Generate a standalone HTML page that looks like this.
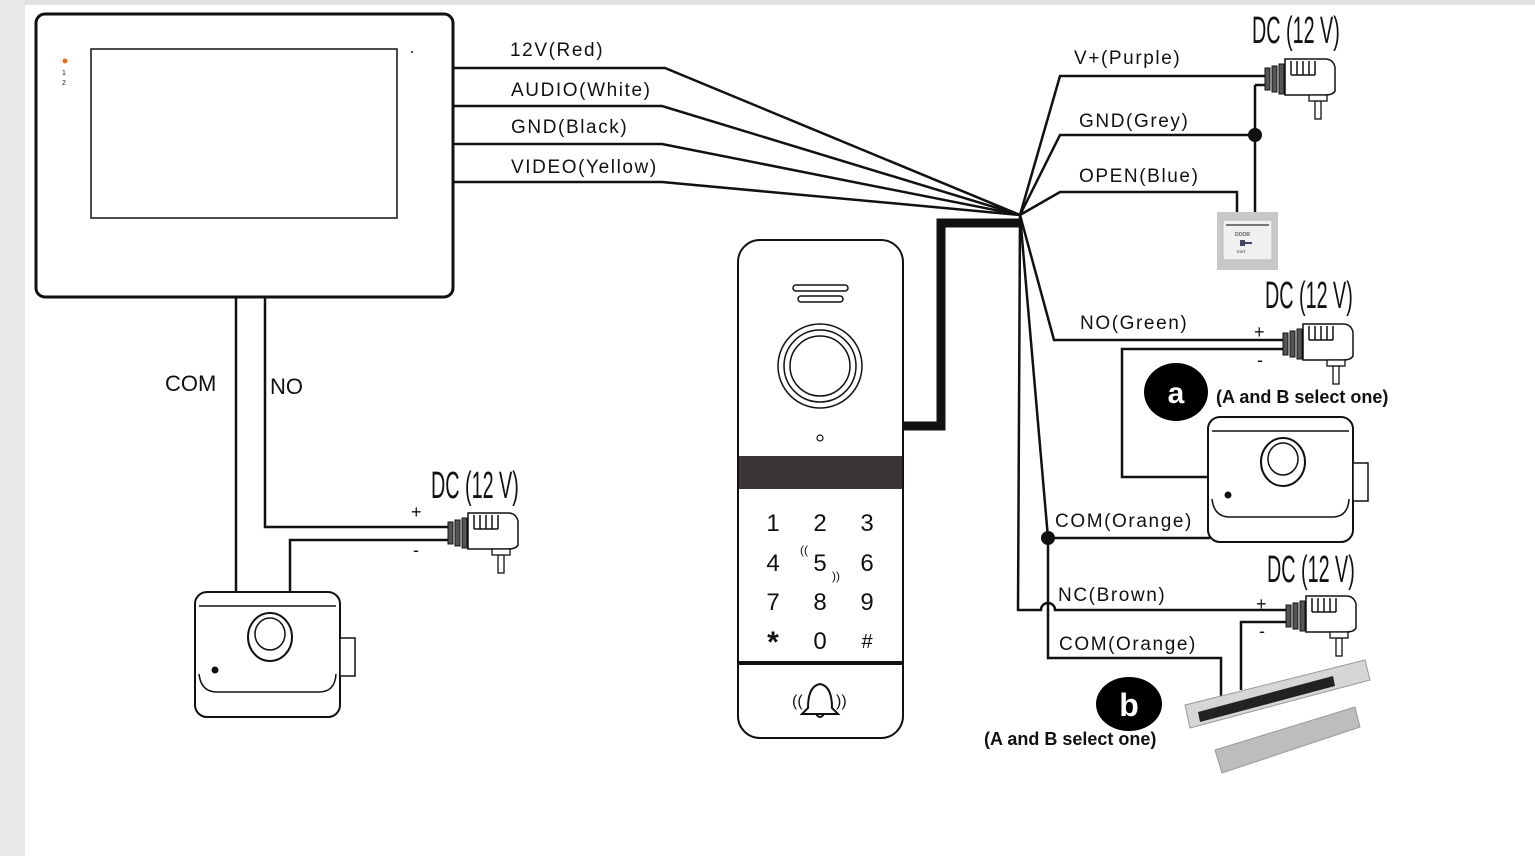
<!DOCTYPE html>
<html><head><meta charset="utf-8"><style>
html,body{margin:0;padding:0;background:#fff}
svg{display:block}
text{font-family:"Liberation Sans",sans-serif;fill:#111}
</style></head><body>
<svg width="1535" height="856" viewBox="0 0 1535 856" xmlns="http://www.w3.org/2000/svg">
<defs>
<g id="plug">
<rect x="0" y="-11" width="5" height="22" fill="#555" stroke="#111" stroke-width="1"/>
<rect x="7" y="-13" width="5" height="26" fill="#555" stroke="#111" stroke-width="1"/>
<rect x="14" y="-15" width="5" height="30" fill="#555" stroke="#111" stroke-width="1"/>
<path d="M20 -20 H60 Q68 -20 70 -12 V12 Q68 16 60 16 H20 Z" fill="#fff" stroke="#111" stroke-width="1.5"/>
<path d="M26 -18 V-4 M32 -18 V-4 M38 -18 V-4 M44 -18 V-4 M50 -18 V-4 M26 -4 H50" stroke="#111" stroke-width="1.5" fill="none"/>
<rect x="50" y="22" width="6" height="18" fill="#fff" stroke="#111" stroke-width="1.3"/>
<rect x="44" y="16" width="18" height="6" fill="#fff" stroke="#111" stroke-width="1.3"/>
</g>
<g id="lock">
<rect x="0" y="0" width="145" height="125" rx="12" fill="#fff" stroke="#111" stroke-width="2"/>
<path d="M4 14 H141" stroke="#111" stroke-width="1.5"/>
<path d="M4 82 Q6 100 22 100 H124 Q140 100 141 82" stroke="#111" stroke-width="1.5" fill="none"/>
<rect x="145" y="46" width="15" height="38" fill="#fff" stroke="#111" stroke-width="1.5"/>
<ellipse cx="75" cy="45" rx="22" ry="24" fill="#fff" stroke="#111" stroke-width="2"/>
<ellipse cx="75" cy="42" rx="15" ry="16" fill="#fff" stroke="#111" stroke-width="1.5"/>
<circle cx="20" cy="78" r="3.5" fill="#111"/>
</g>
<text id="dc" font-size="38" transform="scale(0.52,1)">DC (12 V)</text>
</defs>
<rect x="0" y="0" width="1535" height="5" fill="#e2e2e2"/>
<rect x="0" y="0" width="25" height="856" fill="#e8e8e8"/>

<!-- Monitor -->
<rect x="36" y="14" width="417" height="283" rx="9" fill="#fff" stroke="#111" stroke-width="3"/>
<rect x="91" y="49" width="306" height="169" fill="#fff" stroke="#111" stroke-width="1.5"/>
<circle cx="65" cy="61" r="2.5" fill="#e07020"/>
<text x="62" y="75" font-size="7" fill="#888">1</text><text x="62" y="85" font-size="7" fill="#888">2</text>
<circle cx="412" cy="52" r="1" fill="#111"/>

<g stroke="#111" stroke-width="2.5" fill="none">
<path d="M453 68 H665 L1020 215"/>
<path d="M453 106 H662 L1020 215"/>
<path d="M453 144 H662 L1020 215"/>
<path d="M453 182 H662 L1020 215"/>
<path d="M903 426 H941 V223 H1020" stroke-width="9"/>
<path d="M1020 215 L1060 76 H1268"/>
<path d="M1020 215 L1060 135 H1255"/>
<path d="M1255 85 H1268 M1255 85 V212"/>
<path d="M1020 215 L1060 192 H1237 V212"/>
<path d="M1020 215 L1054 340 H1285"/>
<path d="M1285 349 H1122 V477 H1208"/>
<path d="M1020 215 L1048 538 H1210"/>
<path d="M1048 538 V658 H1221 V697"/>
<path d="M1020 215 L1018 610 H1041 A7 7 0 0 1 1055 610 H1290"/>
<path d="M1290 622 H1241 V690"/>
<path d="M236 297 V593"/>
<path d="M265 297 V527 H448"/>
<path d="M290 595 V540 H448"/>
</g>
<circle cx="1255" cy="135" r="7" fill="#111"/>
<circle cx="1048" cy="538" r="7" fill="#111"/>

<g font-size="19" letter-spacing="1.6">
<text x="510" y="56">12V(Red)</text>
<text x="511" y="96">AUDIO(White)</text>
<text x="511" y="133">GND(Black)</text>
<text x="511" y="173">VIDEO(Yellow)</text>
<text x="1074" y="64">V+(Purple)</text>
<text x="1079" y="127">GND(Grey)</text>
<text x="1079" y="182">OPEN(Blue)</text>
<text x="1080" y="329">NO(Green)</text>
<text x="1055" y="527">COM(Orange)</text>
<text x="1058" y="601">NC(Brown)</text>
<text x="1059" y="650">COM(Orange)</text>
</g>
<text x="165" y="391" font-size="22">COM</text>
<text x="270" y="394" font-size="22">NO</text>
<g font-size="18"><text x="411" y="518">+</text><text x="413" y="556">-</text>
<text x="1254" y="338">+</text><text x="1257" y="366">-</text>
<text x="1256" y="610">+</text><text x="1259" y="637">-</text></g>

<use href="#dc" x="1252" y="43"/>
<use href="#dc" x="1265" y="308"/>
<use href="#dc" x="1267" y="582"/>
<use href="#dc" x="431" y="498"/>

<use href="#plug" x="1265" y="79"/>
<use href="#plug" x="1283" y="344"/>
<use href="#plug" x="1286" y="616"/>
<use href="#plug" x="448" y="533"/>

<rect x="1217" y="212" width="61" height="58" fill="#c8c8c8"/>
<rect x="1223" y="220" width="49" height="40" fill="#f0f0f0" stroke="#bbb"/>
<rect x="1226" y="224" width="43" height="2" fill="#777"/>
<text x="1235" y="236" font-size="5" fill="#555">DOOR</text>
<rect x="1240" y="240" width="5" height="6" fill="#446"/><rect x="1245" y="242" width="7" height="2" fill="#446"/>
<text x="1237" y="253" font-size="4" fill="#555">EXIT</text>

<use href="#lock" x="195" y="592"/>
<use href="#lock" x="1208" y="417"/>

<ellipse cx="1176" cy="392" rx="32" ry="29" fill="#000"/>
<text x="1176" y="403" font-size="30" font-weight="bold" text-anchor="middle" style="fill:#fff">a</text>
<text x="1216" y="403" font-size="18" font-weight="bold">(A and B select one)</text>
<ellipse cx="1129" cy="704" rx="33" ry="27" fill="#000"/>
<text x="1129" y="716" font-size="32" font-weight="bold" text-anchor="middle" style="fill:#fff">b</text>
<text x="984" y="745" font-size="18" font-weight="bold">(A and B select one)</text>

<polygon points="1185,705 1365,660 1370,680 1190,728" fill="#d6d6d6" stroke="#999"/>
<polygon points="1198,712 1333,676 1335,686 1200,722" fill="#222"/>
<polygon points="1215,750 1355,707 1360,727 1222,773" fill="#bdbdbd" stroke="#999"/>

<rect x="738" y="240" width="165" height="498" rx="22" fill="#fff" stroke="#111" stroke-width="2"/>
<rect x="793" y="285" width="55" height="6" rx="3" fill="#fff" stroke="#111" stroke-width="1.5"/>
<rect x="798" y="296" width="45" height="6" rx="3" fill="#fff" stroke="#111" stroke-width="1.5"/>
<circle cx="820" cy="366" r="42" fill="#fff" stroke="#111" stroke-width="1.5"/>
<circle cx="820" cy="366" r="36" fill="#fff" stroke="#111" stroke-width="1.5"/>
<circle cx="820" cy="366" r="30" fill="#fff" stroke="#111" stroke-width="1.5"/>
<circle cx="820" cy="438" r="3" fill="#fff" stroke="#111" stroke-width="1.2"/>
<rect x="739" y="456" width="163" height="33" fill="#3b3535"/>
<rect x="739" y="661" width="163" height="4" fill="#111"/>
<g font-size="24" text-anchor="middle">
<text x="773" y="531">1</text><text x="820" y="531">2</text><text x="867" y="531">3</text>
<text x="773" y="571">4</text><text x="820" y="571">5</text><text x="867" y="571">6</text>
<text x="773" y="610">7</text><text x="820" y="610">8</text><text x="867" y="610">9</text>
<text x="773" y="652" font-size="30" font-weight="bold">*</text><text x="820" y="649">0</text><text x="867" y="648" font-size="20">#</text>
</g>
<text x="800" y="554" font-size="12">((</text>
<text x="832" y="580" font-size="12">))</text>
<path d="M808 708 Q808 686 820 684 Q832 686 832 708 L838 714 H802 Z" fill="#fff" stroke="#111" stroke-width="2"/>
<path d="M816 714 Q820 720 824 714" fill="none" stroke="#111" stroke-width="2"/>
<text x="792" y="706" font-size="16">((</text><text x="836" y="706" font-size="16">))</text>
</svg>
</body></html>
